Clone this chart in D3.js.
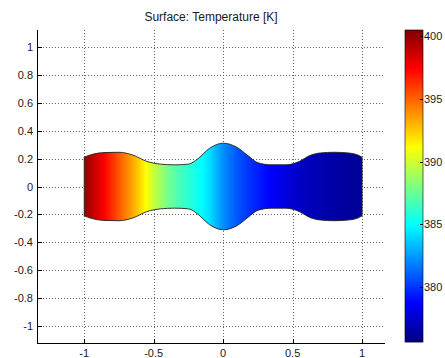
<!DOCTYPE html>
<html>
<head>
<meta charset="utf-8">
<script src="https://cdn.jsdelivr.net/npm/d3@7"></script>
<style>
  body { margin: 0; background: #fff; }
  text { font-family: "Liberation Sans", Arial, sans-serif; fill: #1a1a1a; }
</style>
</head>
<body>
<svg id="chart" width="445" height="358"></svg>
<script>
// data
let title = "Surface: Temperature [K]";
let x_ticks = [-1, -0.5, 0, 0.5, 1];
let y_ticks = [-1, -0.8, -0.6, -0.4, -0.2, 0, 0.2, 0.4, 0.6, 0.8, 1];
let cbar_ticks = [380, 385, 390, 395, 400];

// channel outline, x position and half width (shape is symmetric about y=0)
let profile_x = [-1, -0.95, -0.85, -0.75, -0.65, -0.55, -0.45, -0.35, -0.25, -0.18, -0.1, 0,
  0.1, 0.18, 0.25, 0.35, 0.45, 0.55, 0.62, 0.7, 0.8, 0.9, 0.97, 1];
let profile_h = [0.21, 0.228, 0.243, 0.245, 0.225, 0.18, 0.16, 0.155, 0.16, 0.2, 0.272, 0.31,
  0.28, 0.22, 0.17, 0.155, 0.155, 0.18, 0.22, 0.24, 0.245, 0.24, 0.225, 0.21];

// temperature along the channel
let temp_x = [-1, -0.9, -0.8, -0.7, -0.6, -0.5, -0.4, -0.3, -0.2, -0.1, 0,
  0.1, 0.2, 0.3, 0.4, 0.5, 0.6, 0.7, 0.8, 0.9, 1];
let temp_k = [400, 398.3, 396.3, 394.3, 392.2, 389.8, 387.8, 386.5, 385.5, 384.2, 382.2,
  380.8, 379.8, 379.0, 378.3, 377.6, 377.1, 376.8, 376.5, 376.3, 376.2];

let t_min = 375.6;
let t_max = 400.5;

// matlab jet, t in [0,1]
function jet(t) {
  let c = v => Math.round(255 * Math.max(0, Math.min(1, v)));
  return d3.rgb(c(1.5 - Math.abs(4 * t - 3)), c(1.5 - Math.abs(4 * t - 2)), c(1.5 - Math.abs(4 * t - 1))) + "";
}
let norm = d3.scaleLinear().domain([t_min, t_max]).range([0, 1]).clamp(true);
let color = v => jet(norm(v));

let svg = d3.select("#chart");

// axes area
let x = d3.scaleLinear().domain([-1.34, 1.165]).range([37, 385]);
let y = d3.scaleLinear().domain([-1.12, 1.12]).range([343, 30]);

// dotted grid
let grid = svg.append("g").attr("stroke", "#666").attr("stroke-width", 1).attr("stroke-dasharray", "1,2");
grid.selectAll("line.gx").data(x_ticks).enter().append("line")
  .attr("x1", d => Math.round(x(d)) + 0.5).attr("x2", d => Math.round(x(d)) + 0.5)
  .attr("y1", y.range()[1]).attr("y2", y.range()[0]);
grid.selectAll("line.gy").data(y_ticks).enter().append("line")
  .attr("y1", d => Math.round(y(d)) + 0.5).attr("y2", d => Math.round(y(d)) + 0.5)
  .attr("x1", x.range()[0]).attr("x2", x.range()[1]);

// the surface: thin strips coloured by temperature, clipped to the outline
let temp_at = d3.scaleLinear().domain(temp_x).range(temp_k);
let outline = d3.area()
  .x((d, i) => x(profile_x[i]))
  .y0((d, i) => y(-profile_h[i]))
  .y1((d, i) => y(profile_h[i]))
  .curve(d3.curveMonotoneX);

svg.append("clipPath").attr("id", "shape")
  .append("path").attr("d", outline(profile_x));

let px0 = Math.floor(x(-1)), px1 = Math.ceil(x(1));
let strips = d3.range(px0, px1);
svg.append("g").attr("clip-path", "url(#shape)")
  .selectAll("rect").data(strips).enter().append("rect")
  .attr("x", d => d)
  .attr("y", y(0.4))
  .attr("width", 1.2)
  .attr("height", y(-0.4) - y(0.4))
  .attr("fill", d => color(temp_at(Math.max(-1, Math.min(1, x.invert(d + 0.5))))));

svg.append("path")
  .attr("d", outline(profile_x))
  .attr("fill", "none")
  .attr("stroke", "#222")
  .attr("stroke-width", 0.9);

// axis lines, left and bottom only
svg.append("line").attr("x1", 37.5).attr("x2", 37.5).attr("y1", 30).attr("y2", 343.5)
  .attr("stroke", "#000").attr("stroke-width", 1);
svg.append("line").attr("x1", 37).attr("x2", 385).attr("y1", 343.5).attr("y2", 343.5)
  .attr("stroke", "#000").attr("stroke-width", 1);

// ticks inside
svg.selectAll("line.tx").data(x_ticks).enter().append("line")
  .attr("x1", d => Math.round(x(d)) + 0.5).attr("x2", d => Math.round(x(d)) + 0.5)
  .attr("y1", 343).attr("y2", 339).attr("stroke", "#000");
svg.selectAll("line.ty").data(y_ticks).enter().append("line")
  .attr("y1", d => Math.round(y(d)) + 0.5).attr("y2", d => Math.round(y(d)) + 0.5)
  .attr("x1", 38).attr("x2", 42).attr("stroke", "#000");

// tick labels, plain hyphen minus like matlab
svg.selectAll("text.xl").data(x_ticks).enter().append("text")
  .attr("x", d => x(d)).attr("y", 357)
  .attr("text-anchor", "middle").attr("font-size", 11)
  .text(d => String(d));
svg.selectAll("text.yl").data(y_ticks).enter().append("text")
  .attr("x", 33).attr("y", d => y(d) + 4)
  .attr("text-anchor", "end").attr("font-size", 11)
  .text(d => String(d));

// title
svg.append("text").attr("x", 211).attr("y", 21)
  .attr("text-anchor", "middle").attr("font-size", 12)
  .text(title);

// colorbar
let cb = d3.scaleLinear().domain([t_min, t_max]).range([342, 30]);
let cb_rows = d3.range(30, 342);
svg.append("g").selectAll("rect").data(cb_rows).enter().append("rect")
  .attr("x", 405).attr("y", d => d).attr("width", 18).attr("height", 1.2)
  .attr("fill", d => color(cb.invert(d + 0.5)));
svg.append("rect").attr("x", 405).attr("y", 30).attr("width", 18).attr("height", 312)
  .attr("fill", "none").attr("stroke", "#000").attr("stroke-width", 0.6);
svg.selectAll("line.ct").data(cbar_ticks).enter().append("line")
  .attr("x1", 420).attr("x2", 423)
  .attr("y1", d => Math.round(cb(d)) + 0.5).attr("y2", d => Math.round(cb(d)) + 0.5)
  .attr("stroke", "#000");
svg.selectAll("text.cl").data(cbar_ticks).enter().append("text")
  .attr("x", 424).attr("y", d => cb(d) + 4)
  .attr("font-size", 11)
  .text(d => d);
</script>
</body>
</html>
